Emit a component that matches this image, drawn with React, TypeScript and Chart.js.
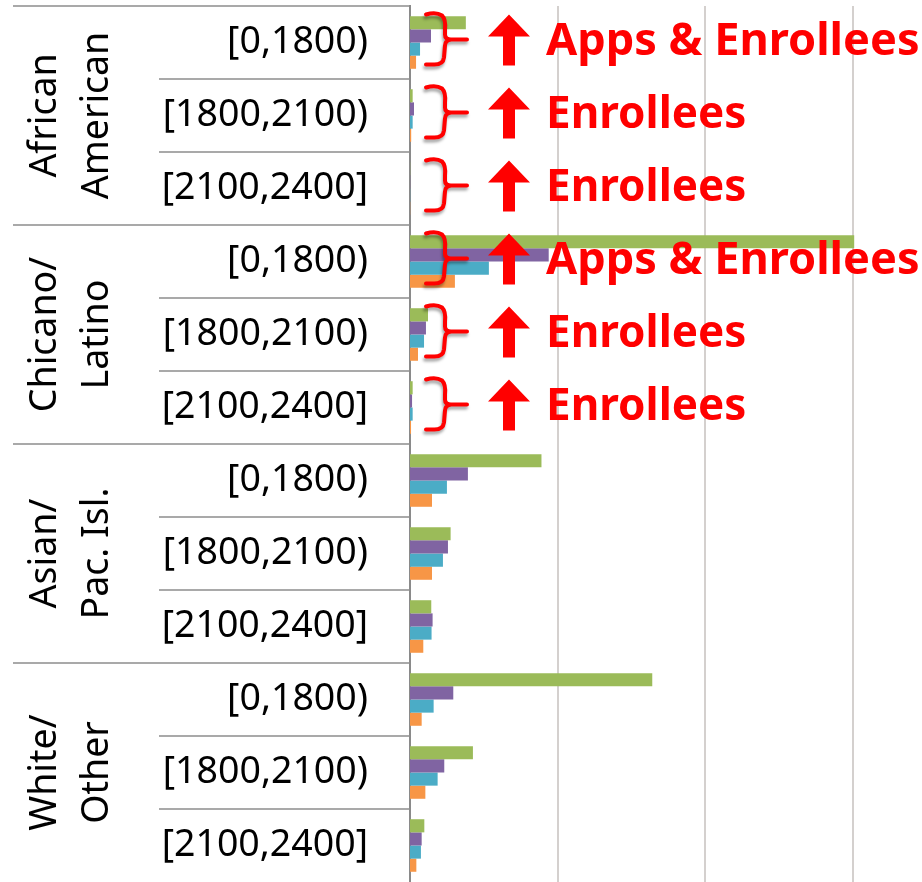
import React, { useEffect, useRef } from "react";
import { Chart, registerables } from "chart.js";

Chart.register(...registerables);

// Row (sub-category) labels, top to bottom
const rowLabels = [
  "[0,1800)", "[1800,2100)", "[2100,2400]",
  "[0,1800)", "[1800,2100)", "[2100,2400]",
  "[0,1800)", "[1800,2100)", "[2100,2400]",
  "[0,1800)", "[1800,2100)", "[2100,2400]",
];

// Group labels (two lines each), one per three rows
const groupLines = [
  ["African", "American"],
  ["Chicano/", "Latino"],
  ["Asian/", "Pac. Isl."],
  ["White/", "Other"],
];

// Series values (one per row)
const seriesApplicants = [378, 18, 1, 3007, 122, 18, 890, 275, 144, 1640, 426, 97];
const seriesAdmits = [142, 27, 1, 939, 108, 14, 392, 257, 153, 293, 232, 79];
const seriesIntents = [68, 18, 1, 534, 95, 18, 250, 223, 146, 160, 187, 74];
const seriesEnrollees = [41, 8, 1, 304, 54, 7, 149, 149, 90, 79, 104, 43];

const seriesNames = ["Applicants", "Admits", "Intents", "Enrollees"];
const seriesColors = ["#9BBB59", "#8064A2", "#4BACC6", "#F79646"];

// Value axis
const xMax = 3466;
const gridValues = [1000, 2000, 3000];

// Red call-outs: row index and text
const annotationRows = [0, 1, 2, 3, 4, 5];
const annotationTexts = [
  "Apps & Enrollees",
  "Enrollees",
  "Enrollees",
  "Apps & Enrollees",
  "Enrollees",
  "Enrollees",
];

const decorPlugin = {
  id: "decor",
  afterDraw(chart: any) {
    const { ctx, chartArea, scales } = chart;
    const y = scales.y;
    const left = chartArea.left;
    const n = rowLabels.length;
    const half = (y.getPixelForValue(1) - y.getPixelForValue(0)) / 2;

    ctx.save();
    // separator lines in label area
    ctx.strokeStyle = "#8c8c8c";
    ctx.lineWidth = 1.5;
    for (let b = 0; b < n; b++) {
      const py = y.getPixelForValue(b) - half;
      const x0 = b % 3 === 0 ? 13 : 159;
      ctx.beginPath();
      ctx.moveTo(x0, py);
      ctx.lineTo(left, py);
      ctx.stroke();
    }

    // group labels, rotated
    ctx.fillStyle = "#000";
    ctx.font = "37.5px 'Noto Sans'";
    ctx.textAlign = "center";
    ctx.textBaseline = "alphabetic";
    groupLines.forEach((lines, g) => {
      const cy = (y.getPixelForValue(g * 3) + y.getPixelForValue(g * 3 + 2)) / 2;
      ctx.save();
      ctx.translate(0, cy);
      ctx.rotate(-Math.PI / 2);
      ctx.fillText(lines[0], 0, 56);
      ctx.fillText(lines[1], 0, 108);
      ctx.restore();
    });

    // annotations
    annotationRows.forEach((row, i) => {
      const cy = y.getPixelForValue(row) - 3;
      const bx = left + 16;
      // brace with shadow
      ctx.save();
      ctx.strokeStyle = "#FF0000";
      ctx.lineWidth = 4;
      ctx.lineCap = "round";
      ctx.lineJoin = "round";
      ctx.shadowColor = "rgba(0,0,0,0.35)";
      ctx.shadowBlur = 3;
      ctx.shadowOffsetX = -1;
      ctx.shadowOffsetY = 3;
      ctx.beginPath();
      ctx.moveTo(bx, cy - 25);
      ctx.quadraticCurveTo(bx + 10, cy - 28, bx + 16, cy - 24);
      ctx.quadraticCurveTo(bx + 20, cy - 20, bx + 19, cy - 10);
      ctx.lineTo(bx + 19, cy - 5);
      ctx.quadraticCurveTo(bx + 19, cy, bx + 25, cy);
      ctx.lineTo(bx + 41, cy);
      ctx.moveTo(bx + 25, cy);
      ctx.quadraticCurveTo(bx + 19, cy + 1, bx + 19, cy + 6);
      ctx.lineTo(bx + 18, cy + 18);
      ctx.quadraticCurveTo(bx + 17, cy + 26, bx + 6, cy + 25);
      ctx.lineTo(bx, cy + 25);
      ctx.stroke();
      ctx.restore();

      // block arrow
      const ax = left + 99;
      ctx.fillStyle = "#FF0000";
      ctx.beginPath();
      ctx.moveTo(ax, cy - 25);
      ctx.lineTo(ax + 21, cy - 3);
      ctx.lineTo(ax + 6, cy - 3);
      ctx.lineTo(ax + 6, cy + 26);
      ctx.lineTo(ax - 6, cy + 26);
      ctx.lineTo(ax - 6, cy - 3);
      ctx.lineTo(ax - 21, cy - 3);
      ctx.closePath();
      ctx.fill();

      // text
      ctx.font = "bold 44px 'Noto Sans'";
      ctx.textAlign = "left";
      ctx.textBaseline = "alphabetic";
      const tx = left + 136;
      const txt = annotationTexts[i];
      const natural = ctx.measureText(txt).width;
      const sx = txt.length > 10 ? 1.025 : 1;
      ctx.save();
      ctx.translate(tx, cy + 15);
      ctx.scale(sx, 1);
      ctx.fillText(txt, 0, 0, natural);
      ctx.restore();
    });
    ctx.restore();
  },
};

export default function App() {
  const ref = useRef<HTMLCanvasElement>(null);

  useEffect(() => {
    document.body.style.margin = "0";
    const datasetsData = [seriesApplicants, seriesAdmits, seriesIntents, seriesEnrollees];
    const chart = new Chart(ref.current as HTMLCanvasElement, {
      type: "bar",
      data: {
        labels: rowLabels,
        datasets: datasetsData.map((d, i) => ({
          label: seriesNames[i],
          data: d,
          backgroundColor: seriesColors[i],
          borderWidth: 0,
          categoryPercentage: 0.72,
          barPercentage: 1,
        })),
      },
      options: {
        indexAxis: "y",
        responsive: false,
        animation: false,
        devicePixelRatio: 1,
        layout: { padding: { top: 6, left: 0, right: 0, bottom: 0 } },
        plugins: {
          legend: { display: false },
          tooltip: { enabled: false },
        },
        scales: {
          x: {
            type: "linear",
            min: 0,
            max: xMax,
            position: "bottom",
            ticks: { display: false },
            border: { display: false },
            grid: {
              drawTicks: false,
              lineWidth: 2,
              color: "#D4D0CE",
            },
            afterBuildTicks: (s: any) => {
              s.ticks = gridValues.map((v) => ({ value: v }));
            },
            afterFit: (s: any) => {
              s.height = 0;
              s.paddingLeft = 0;
              s.paddingRight = 0;
            },
          },
          y: {
            type: "category",
            offset: true,
            grid: { display: false, drawTicks: false },
            border: { display: true, color: "#8a8a8a", width: 2 },
            ticks: {
              autoSkip: false,
              color: "#000",
              padding: 42,
              font: { family: "'Noto Sans'", size: 37.5 },
            },
            afterFit: (s: any) => {
              s.width = 410;
              s.paddingTop = 0;
              s.paddingBottom = 0;
            },
          },
        },
      },
      plugins: [decorPlugin],
    } as any);
    return () => chart.destroy();
  }, []);

  return <canvas ref={ref} width={922} height={882} style={{ display: "block" }} />;
}
